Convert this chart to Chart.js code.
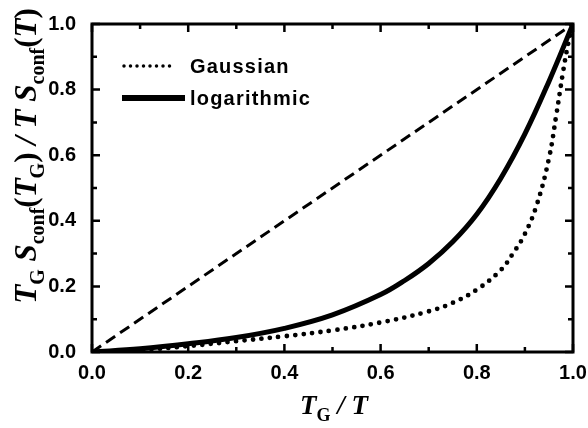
<!DOCTYPE html>
<html lang="en">
<head>
<meta charset="UTF-8">
<title>Configurational entropy ratio</title>
<script src="https://cdn.jsdelivr.net/npm/chart.js"></script>
<style>
    html, body { margin: 0; padding: 0; background: #fff; }
    #wrap { width: 588px; height: 428px; }
</style>
</head>
<body>
<div id="wrap"><canvas id="entropyChart" width="588" height="428"></canvas></div>
<script>
// values
const diagX = [0, 1];
const diagY = [0, 1];

const gaussX = [0, 0.1, 0.2, 0.3, 0.4, 0.5, 0.6, 0.7, 0.75, 0.8, 0.85, 0.875, 0.9, 0.925, 0.95, 0.965, 0.98, 0.99, 1.0];
const gaussY = [0, 0.006, 0.018, 0.033, 0.048, 0.066, 0.09, 0.124, 0.15, 0.19, 0.25, 0.3, 0.36, 0.45, 0.59, 0.72, 0.86, 0.94, 1.0];

const logX = [0, 0.1, 0.2, 0.3, 0.4, 0.5, 0.6, 0.65, 0.7, 0.75, 0.8, 0.85, 0.9, 0.95, 1.0];
const logY = [0, 0.01, 0.025, 0.044, 0.072, 0.113, 0.175, 0.218, 0.27, 0.336, 0.42, 0.53, 0.665, 0.825, 1.0];

const xTicks = [0, 0.2, 0.4, 0.6, 0.8, 1.0];
const yTicks = [0, 0.2, 0.4, 0.6, 0.8, 1.0];

const legendNames = ['Gaussian', 'logarithmic'];

const toPoints = (xs, ys) => xs.map((x, i) => ({ x: x, y: ys[i] }));

const SERIF = '"Liberation Serif", "Times New Roman", serif';
const SANS = '"Liberation Sans", Arial, sans-serif';

// draw a label made of italic / roman / subscript pieces, centred on 0
function drawRich(ctx, pieces, size) {
    const fonts = {
        i: 'italic bold ' + size + 'px ' + SERIF,
        r: 'bold ' + size + 'px ' + SERIF,
        s: 'bold ' + Math.round(size * 0.66) + 'px ' + SERIF
    };
    let w = 0;
    pieces.forEach(p => { ctx.font = fonts[p[1]]; w += ctx.measureText(p[0]).width; });
    let x = -w / 2;
    pieces.forEach(p => {
        ctx.font = fonts[p[1]];
        ctx.fillText(p[0], x, p[1] === 's' ? size * 0.25 : 0);
        x += ctx.measureText(p[0]).width;
    });
}

const framePlugin = {
    id: 'frame',
    afterDatasetsDraw(chart) {
        const { ctx, chartArea: a, scales: { x, y } } = chart;
        ctx.save();
        ctx.strokeStyle = '#000';
        ctx.lineWidth = 3;
        ctx.setLineDash([]);
        ctx.strokeRect(a.left, a.top, a.right - a.left, a.bottom - a.top);

        // inward ticks on all four sides
        ctx.lineWidth = 2.5;
        for (let i = 0; i <= 10; i++) {
            const v = i / 10;
            const len = i % 2 === 0 ? 8 : 5;
            const px = x.getPixelForValue(v);
            const py = y.getPixelForValue(v);
            ctx.beginPath();
            ctx.moveTo(px, a.bottom); ctx.lineTo(px, a.bottom - len);
            ctx.moveTo(px, a.top); ctx.lineTo(px, a.top + len);
            ctx.moveTo(a.left, py); ctx.lineTo(a.left + len, py);
            ctx.moveTo(a.right, py); ctx.lineTo(a.right - len, py);
            ctx.stroke();
        }

        // legend in the upper left of the plot
        ctx.fillStyle = '#000';
        ctx.font = 'bold 20px ' + SANS;
        ctx.letterSpacing = '1.2px';
        ctx.textBaseline = 'alphabetic';
        ctx.lineCap = 'round';
        ctx.lineWidth = 3.5;
        ctx.setLineDash([0, 6.5]);
        ctx.beginPath(); ctx.moveTo(124, 66); ctx.lineTo(176, 66); ctx.stroke();
        ctx.fillText(legendNames[0], 190, 73);
        ctx.lineCap = 'butt';
        ctx.lineWidth = 6;
        ctx.setLineDash([]);
        ctx.beginPath(); ctx.moveTo(122, 98); ctx.lineTo(185, 98); ctx.stroke();
        ctx.fillText(legendNames[1], 190, 105);
        ctx.restore();
    },
    afterDraw(chart) {
        const ctx = chart.ctx;
        ctx.save();
        ctx.fillStyle = '#000';
        ctx.textBaseline = 'alphabetic';
        ctx.textAlign = 'left';

        ctx.save();
        ctx.translate(334, 414);
        drawRich(ctx, [['T', 'i'], ['G', 's'], [' / ', 'i'], ['T', 'i']], 27);
        ctx.restore();

        ctx.save();
        ctx.translate(36, 156);
        ctx.rotate(-Math.PI / 2);
        drawRich(ctx, [
            ['T', 'i'], ['G', 's'], [' ', 'r'], ['S', 'i'], ['conf', 's'], ['(', 'r'], ['T', 'i'], ['G', 's'], [')', 'r'],
            [' / ', 'i'], ['T', 'i'], [' ', 'r'], ['S', 'i'], ['conf', 's'], ['(', 'r'], ['T', 'i'], [')', 'r']
        ], 31);
        ctx.restore();
        ctx.restore();
    }
};

const ctx = document.getElementById('entropyChart').getContext('2d');
new Chart(ctx, {
    type: 'line',
    data: {
        datasets: [
            {
                label: 'diagonal',
                data: toPoints(diagX, diagY),
                borderColor: '#000',
                borderWidth: 3,
                borderDash: [11, 6],
                pointRadius: 0,
                fill: false
            },
            {
                label: legendNames[0],
                data: toPoints(gaussX, gaussY),
                borderColor: '#000',
                borderWidth: 4.8,
                borderDash: [0, 8.5],
                borderCapStyle: 'round',
                tension: 0.4,
                pointRadius: 0,
                fill: false
            },
            {
                label: legendNames[1],
                data: toPoints(logX, logY),
                borderColor: '#000',
                borderWidth: 5,
                tension: 0.4,
                pointRadius: 0,
                fill: false
            }
        ]
    },
    options: {
        responsive: false,
        animation: false,
        devicePixelRatio: 1,
        layout: { padding: { top: 24, right: 15, left: 0, bottom: 0 } },
        plugins: {
            legend: { display: false },
            tooltip: { enabled: false }
        },
        scales: {
            x: {
                type: 'linear',
                min: 0,
                max: 1,
                afterBuildTicks: s => { s.ticks = xTicks.map(v => ({ value: v })); },
                afterFit: s => { s.height = 76; },
                grid: { display: false },
                border: { display: false },
                ticks: {
                    color: '#000',
                    padding: 1,
                    maxRotation: 0,
                    font: { family: SANS, size: 20, weight: 'bold' },
                    callback: v => v.toFixed(1)
                }
            },
            y: {
                type: 'linear',
                min: 0,
                max: 1,
                afterBuildTicks: s => { s.ticks = yTicks.map(v => ({ value: v })); },
                afterFit: s => { s.width = 92; },
                grid: { display: false },
                border: { display: false },
                ticks: {
                    color: '#000',
                    padding: 8,
                    font: { family: SANS, size: 20, weight: 'bold' },
                    callback: v => v.toFixed(1)
                }
            }
        }
    },
    plugins: [framePlugin]
});
</script>
</body>
</html>
